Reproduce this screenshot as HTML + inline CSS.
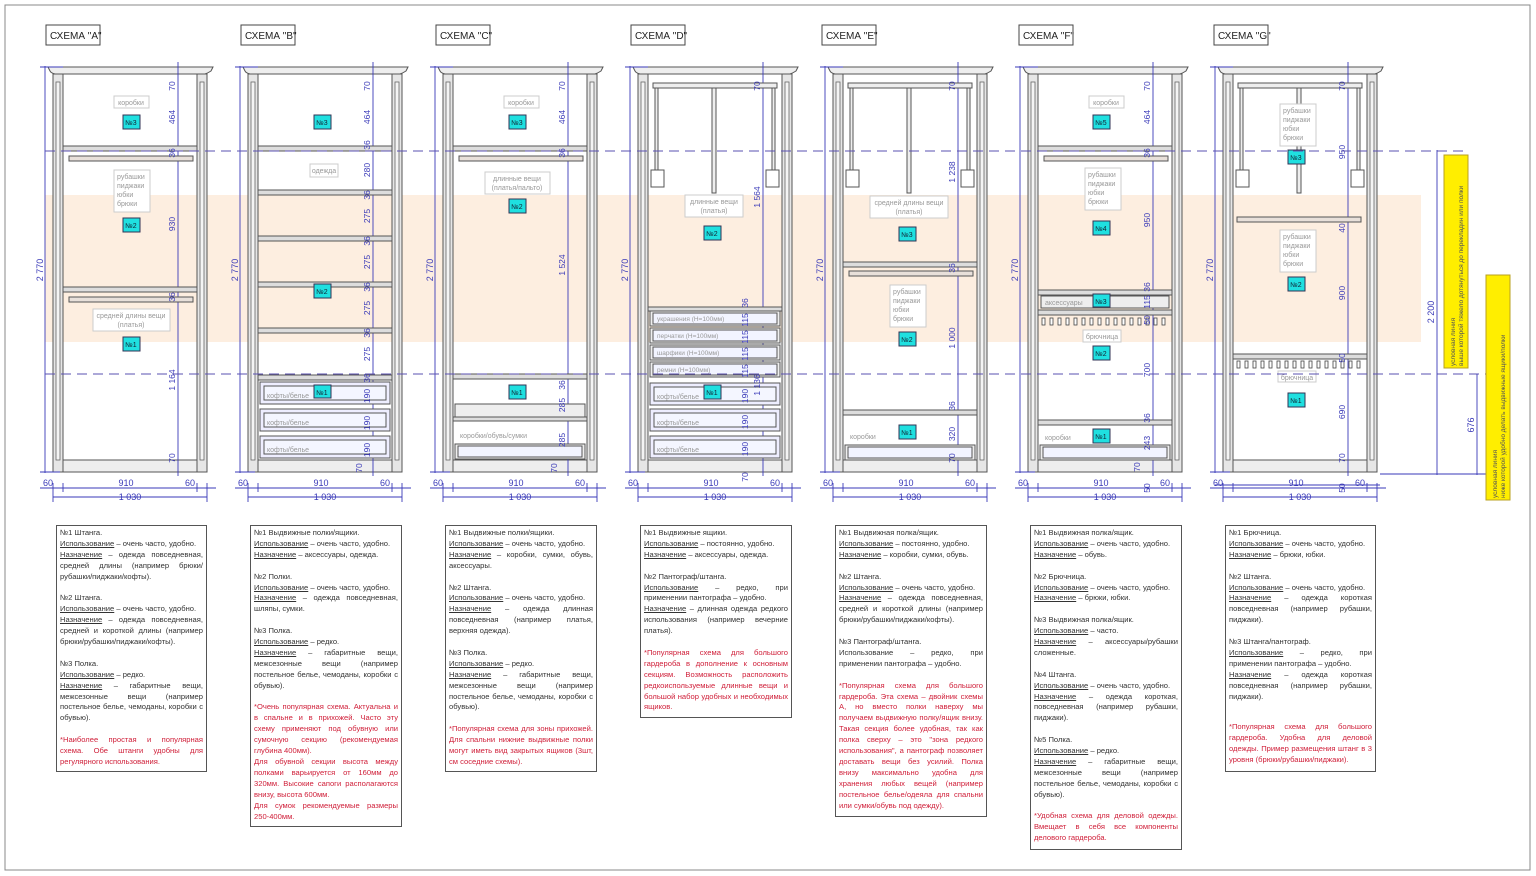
<!DOCTYPE html>
<html><head><meta charset="utf-8">
<style>
html,body{margin:0;padding:0;background:#fff}
#w{position:relative;width:1536px;height:876px;overflow:hidden;font-family:"Liberation Sans Narrow","Liberation Sans",sans-serif}
svg{position:absolute;left:0;top:0}
.tb{position:absolute;border:1.3px solid #555;padding:2px 3px;font-size:7.6px;line-height:10.9px;color:#333;text-align:justify;box-sizing:border-box;background:#fff}
.tb p{margin:0 0 10.9px 0}
.tb u{text-decoration:underline}
.r{color:#d0203a}
</style></head><body><div id="w">
<svg width="1536" height="876" viewBox="0 0 1536 876" font-family="Liberation Sans Narrow, Liberation Sans, sans-serif">
<defs>
<g id="cab">
<path d="M48,67 L213,67 L211,71 Q208,73 205,74 L55,74 Q51,73 50,71 Z" fill="#eee" stroke="#555" stroke-width="1"/>
<rect x="53" y="74" width="10" height="398" fill="#e6e6e6" stroke="#555"/>
<rect x="56" y="82" width="4" height="378" fill="#f4f4f4" stroke="#666" stroke-width="0.8"/>
<rect x="197" y="74" width="10" height="398" fill="#e6e6e6" stroke="#555"/>
<rect x="200" y="82" width="4" height="378" fill="#f4f4f4" stroke="#666" stroke-width="0.8"/>
<rect x="63" y="460" width="134" height="12" fill="#eee" stroke="#555"/>
<g stroke="#3a3ab8" stroke-width="0.9" fill="none">
<line x1="45" y1="66" x2="45" y2="473"/><line x1="40" y1="67" x2="63" y2="67"/><line x1="40" y1="472" x2="60" y2="472"/>
<line x1="178" y1="62" x2="178" y2="476"/>
<line x1="40" y1="488" x2="216" y2="488"/><line x1="53" y1="497" x2="207" y2="497"/>
<line x1="53" y1="483" x2="53" y2="502"/><line x1="63" y1="483" x2="63" y2="492"/><line x1="197" y1="483" x2="197" y2="492"/><line x1="207" y1="483" x2="207" y2="502"/>
</g>
<g fill="#3a3ab8" font-size="9">
<text x="43" y="270" transform="rotate(-90 43 270)" text-anchor="middle">2 770</text>
<text x="48" y="486" text-anchor="middle">60</text><text x="126" y="486" text-anchor="middle">910</text><text x="190" y="486" text-anchor="middle">60</text>
<text x="130" y="500" text-anchor="middle">1 030</text>
</g>
</g>
<g id="panto">
<rect x="68" y="83" width="124" height="5" fill="#eee" stroke="#555"/>
<rect x="70" y="88" width="3" height="82" fill="#eee" stroke="#555"/>
<rect x="187" y="88" width="3" height="82" fill="#eee" stroke="#555"/>
<rect x="66" y="170" width="13" height="17" fill="#fff" stroke="#555"/>
<rect x="181" y="170" width="13" height="17" fill="#fff" stroke="#555"/>
<rect x="127" y="88" width="4" height="105" fill="#eee" stroke="#555"/>
</g>
<g id="shelfrod">
<rect x="63" y="146" width="134" height="5" fill="#ddd" stroke="#555"/>
<rect x="69" y="156" width="124" height="5" fill="#e8e0da" stroke="#555"/>
</g>
<g id="drw"><rect x="65" y="0" width="130" height="22" fill="#eef" stroke="#555"/><rect x="69" y="4" width="122" height="14" fill="#f4f6ff" stroke="#555"/></g>
<g id="sdrw"><rect x="65" y="0" width="130" height="15" fill="#eee" stroke="#555"/><rect x="68" y="2" width="124" height="11" fill="#f2f4ff" stroke="#555"/></g>
<g id="comb" fill="#fff" stroke="#444" stroke-width="0.8">
<rect x="67" y="0" width="3" height="7"/><rect x="75" y="0" width="3" height="7"/><rect x="83" y="0" width="3" height="7"/><rect x="91" y="0" width="3" height="7"/><rect x="99" y="0" width="3" height="7"/><rect x="107" y="0" width="3" height="7"/><rect x="115" y="0" width="3" height="7"/><rect x="123" y="0" width="3" height="7"/><rect x="131" y="0" width="3" height="7"/><rect x="139" y="0" width="3" height="7"/><rect x="147" y="0" width="3" height="7"/><rect x="155" y="0" width="3" height="7"/><rect x="163" y="0" width="3" height="7"/><rect x="171" y="0" width="3" height="7"/><rect x="179" y="0" width="3" height="7"/><rect x="187" y="0" width="3" height="7"/>
</g>
</defs>
<rect x="5" y="5" width="1525" height="865" fill="none" stroke="#888" stroke-width="1"/>
<rect x="45" y="195" width="1376" height="147" fill="#fdeee0"/>

<!-- headers -->
<g font-size="10" fill="#222" stroke-width="1">
<rect x="46" y="25" width="54" height="20" fill="#fff" stroke="#444"/><text x="50" y="39">СХЕМА "A"</text>
<rect x="241" y="25" width="54" height="20" fill="#fff" stroke="#444"/><text x="245" y="39">СХЕМА "B"</text>
<rect x="436" y="25" width="54" height="20" fill="#fff" stroke="#444"/><text x="440" y="39">СХЕМА "C"</text>
<rect x="631" y="25" width="54" height="20" fill="#fff" stroke="#444"/><text x="635" y="39">СХЕМА "D"</text>
<rect x="822" y="25" width="54" height="20" fill="#fff" stroke="#444"/><text x="826" y="39">СХЕМА "E"</text>
<rect x="1019" y="25" width="54" height="20" fill="#fff" stroke="#444"/><text x="1023" y="39">СХЕМА "F"</text>
<rect x="1214" y="25" width="54" height="20" fill="#fff" stroke="#444"/><text x="1218" y="39">СХЕМА "G"</text>
</g>

<use href="#cab"/><use href="#cab" x="195"/><use href="#cab" x="390"/><use href="#cab" x="585"/><use href="#cab" x="780"/><use href="#cab" x="975"/><use href="#cab" x="1170"/>

<!-- A -->
<g>
<use href="#shelfrod"/><use href="#shelfrod" y="141"/>
<rect x="114" y="96" width="35" height="12" fill="#fff" stroke="#ccc"/><text x="131" y="105" font-size="7" fill="#999" text-anchor="middle">коробки</text>
<rect x="114" y="170" width="36" height="42" fill="#fff" stroke="#ccc"/><text font-size="7" fill="#999"><tspan x="117" y="179">рубашки</tspan><tspan x="117" y="188">пиджаки</tspan><tspan x="117" y="197">юбки</tspan><tspan x="117" y="206">брюки</tspan></text>
<rect x="93" y="309" width="77" height="22" fill="#fff" stroke="#ccc"/><text font-size="7" fill="#999" text-anchor="middle"><tspan x="131" y="318">средней длины вещи</tspan><tspan x="131" y="327">(платья)</tspan></text>
</g>
<!-- B -->
<g transform="translate(195,0)">
<rect x="63" y="146" width="134" height="5" fill="#ddd" stroke="#555"/>
<rect x="63" y="190" width="134" height="5" fill="#ddd" stroke="#555"/>
<rect x="63" y="236" width="134" height="5" fill="#ddd" stroke="#555"/>
<rect x="63" y="282" width="134" height="5" fill="#ddd" stroke="#555"/>
<rect x="63" y="328" width="134" height="5" fill="#ddd" stroke="#555"/>
<rect x="63" y="375" width="134" height="5" fill="#ddd" stroke="#555"/>
<use href="#drw" y="382"/><use href="#drw" y="409"/><use href="#drw" y="436"/>
<g font-size="7" fill="#999"><text x="72" y="398">кофты/белье</text><text x="72" y="425">кофты/белье</text><text x="72" y="452">кофты/белье</text></g>
<rect x="115" y="164" width="28" height="13" fill="#fff" stroke="#ccc"/><text x="129" y="173" font-size="7" fill="#999" text-anchor="middle">одежда</text>
</g>
<!-- C -->
<g transform="translate(390,0)">
<use href="#shelfrod"/>
<rect x="63" y="374" width="134" height="5" fill="#ddd" stroke="#555"/>
<rect x="65" y="404" width="130" height="13" fill="#eee" stroke="#555"/>
<rect x="63" y="417" width="134" height="4" fill="#ddd" stroke="#555"/>
<use href="#sdrw" y="444"/>
<text x="70" y="438" font-size="7" fill="#999">коробки/обувь/сумки</text>
<rect x="114" y="96" width="35" height="12" fill="#fff" stroke="#ccc"/><text x="131" y="105" font-size="7" fill="#999" text-anchor="middle">коробки</text>
<rect x="95" y="172" width="65" height="22" fill="#fff" stroke="#ccc"/><text font-size="7" fill="#999" text-anchor="middle"><tspan x="127" y="181">длинные вещи</tspan><tspan x="127" y="190">(платья/пальто)</tspan></text>
</g>
<!-- D -->
<g transform="translate(585,0)">
<use href="#panto"/>
<rect x="63" y="307" width="134" height="4" fill="#ddd" stroke="#555"/>
<use href="#sdrw" y="311"/><use href="#sdrw" y="328"/><use href="#sdrw" y="345"/><use href="#sdrw" y="362"/>
<g font-size="6.5" fill="#999"><text x="72" y="321">украшения (Н=100мм)</text><text x="72" y="338">перчатки (Н=100мм)</text><text x="72" y="355">шарфики (Н=100мм)</text><text x="72" y="372">ремни (Н=100мм)</text></g>
<use href="#drw" y="383"/><use href="#drw" y="409"/><use href="#drw" y="436"/>
<g font-size="7" fill="#999"><text x="72" y="399">кофты/белье</text><text x="72" y="425">кофты/белье</text><text x="72" y="452">кофты/белье</text></g>
<rect x="100" y="195" width="58" height="22" fill="#fff" stroke="#ccc"/><text font-size="7" fill="#999" text-anchor="middle"><tspan x="129" y="204">длинные вещи</tspan><tspan x="129" y="213">(платья)</tspan></text>
</g>
<!-- E -->
<g transform="translate(780,0)">
<use href="#panto"/>
<rect x="63" y="262" width="134" height="5" fill="#ddd" stroke="#555"/>
<rect x="69" y="271" width="124" height="5" fill="#e8e0da" stroke="#555"/>
<rect x="63" y="410" width="134" height="5" fill="#ddd" stroke="#555"/>
<use href="#sdrw" y="445"/>
<text x="70" y="439" font-size="7" fill="#999">коробки</text>
<rect x="90" y="196" width="78" height="22" fill="#fff" stroke="#ccc"/><text font-size="7" fill="#999" text-anchor="middle"><tspan x="129" y="205">средней длины вещи</tspan><tspan x="129" y="214">(платья)</tspan></text>
<rect x="110" y="285" width="36" height="42" fill="#fff" stroke="#ccc"/><text font-size="7" fill="#999"><tspan x="113" y="294">рубашки</tspan><tspan x="113" y="303">пиджаки</tspan><tspan x="113" y="312">юбки</tspan><tspan x="113" y="321">брюки</tspan></text>
</g>
<!-- F -->
<g transform="translate(975,0)">
<use href="#shelfrod"/>
<rect x="63" y="290" width="134" height="5" fill="#ddd" stroke="#555"/>
<rect x="66" y="296" width="128" height="12" fill="#eee" stroke="#555"/>
<rect x="63" y="310" width="134" height="5" fill="#ddd" stroke="#555"/>
<use href="#comb" y="318"/>
<rect x="63" y="420" width="134" height="5" fill="#ddd" stroke="#555"/>
<use href="#sdrw" y="445"/>
<text x="70" y="305" font-size="7" fill="#999">аксессуары</text>
<text x="70" y="440" font-size="7" fill="#999">коробки</text>
<rect x="114" y="96" width="35" height="12" fill="#fff" stroke="#ccc"/><text x="131" y="105" font-size="7" fill="#999" text-anchor="middle">коробки</text>
<rect x="110" y="168" width="36" height="42" fill="#fff" stroke="#ccc"/><text font-size="7" fill="#999"><tspan x="113" y="177">рубашки</tspan><tspan x="113" y="186">пиджаки</tspan><tspan x="113" y="195">юбки</tspan><tspan x="113" y="204">брюки</tspan></text>
<rect x="108" y="330" width="38" height="12" fill="#fff" stroke="#ccc"/><text x="127" y="339" font-size="7" fill="#999" text-anchor="middle">брючница</text>
</g>
<!-- G -->
<g transform="translate(1170,0)">
<use href="#panto"/>
<rect x="67" y="217" width="124" height="5" fill="#e8e0da" stroke="#555"/>
<rect x="63" y="354" width="134" height="5" fill="#ddd" stroke="#555"/>
<use href="#comb" y="361"/>
<rect x="110" y="104" width="36" height="42" fill="#fff" stroke="#ccc"/><text font-size="7" fill="#999"><tspan x="113" y="113">рубашки</tspan><tspan x="113" y="122">пиджаки</tspan><tspan x="113" y="131">юбки</tspan><tspan x="113" y="140">брюки</tspan></text>
<rect x="110" y="230" width="36" height="42" fill="#fff" stroke="#ccc"/><text font-size="7" fill="#999"><tspan x="113" y="239">рубашки</tspan><tspan x="113" y="248">пиджаки</tspan><tspan x="113" y="257">юбки</tspan><tspan x="113" y="266">брюки</tspan></text>
<rect x="108" y="371" width="38" height="11" fill="#fff" stroke="#ccc"/><text x="127" y="380" font-size="7" fill="#999" text-anchor="middle">брючница</text>
</g>

<!-- cyan markers -->
<g font-size="7" fill="#123" text-anchor="middle">
<g fill="#1fe0e0" stroke="#335"><rect x="123" y="115" width="17" height="14"/><rect x="123" y="218" width="17" height="14"/><rect x="123" y="337" width="17" height="14"/>
<rect x="314" y="115" width="17" height="14"/><rect x="314" y="284" width="17" height="14"/><rect x="314" y="385" width="17" height="13"/>
<rect x="509" y="115" width="17" height="14"/><rect x="509" y="199" width="17" height="14"/><rect x="509" y="385" width="17" height="14"/>
<rect x="704" y="226" width="17" height="14"/><rect x="704" y="385" width="17" height="14"/>
<rect x="899" y="227" width="17" height="14"/><rect x="899" y="332" width="17" height="14"/><rect x="899" y="425" width="17" height="14"/>
<rect x="1093" y="115" width="17" height="14"/><rect x="1093" y="221" width="17" height="14"/><rect x="1093" y="294" width="17" height="13"/><rect x="1093" y="346" width="17" height="14"/><rect x="1093" y="429" width="17" height="14"/>
<rect x="1288" y="150" width="17" height="14"/><rect x="1288" y="277" width="17" height="14"/><rect x="1288" y="393" width="17" height="14"/></g>
<text x="131" y="125">№3</text><text x="131" y="228">№2</text><text x="131" y="347">№1</text>
<text x="322" y="125">№3</text><text x="322" y="294">№2</text><text x="322" y="395">№1</text>
<text x="517" y="125">№3</text><text x="517" y="209">№2</text><text x="517" y="395">№1</text>
<text x="712" y="236">№2</text><text x="712" y="395">№1</text>
<text x="907" y="237">№3</text><text x="907" y="342">№2</text><text x="907" y="435">№1</text>
<text x="1101" y="125">№5</text><text x="1101" y="231">№4</text><text x="1101" y="304">№3</text><text x="1101" y="356">№2</text><text x="1101" y="439">№1</text>
<text x="1296" y="160">№3</text><text x="1296" y="287">№2</text><text x="1296" y="403">№1</text>
</g>

<!-- right dims -->
<g fill="#3a3ab8" font-size="8.5" text-anchor="middle">
<text transform="translate(175,86) rotate(-90)">70</text><text transform="translate(175,117) rotate(-90)">464</text><text transform="translate(175,153) rotate(-90)">36</text><text transform="translate(175,224) rotate(-90)">930</text><text transform="translate(175,297) rotate(-90)">36</text><text transform="translate(175,380) rotate(-90)">1 164</text><text transform="translate(175,458) rotate(-90)">70</text>
<text transform="translate(370,86) rotate(-90)">70</text><text transform="translate(370,117) rotate(-90)">464</text><text transform="translate(370,145) rotate(-90)">36</text><text transform="translate(370,170) rotate(-90)">280</text><text transform="translate(370,195) rotate(-90)">36</text><text transform="translate(370,216) rotate(-90)">275</text><text transform="translate(370,241) rotate(-90)">36</text><text transform="translate(370,262) rotate(-90)">275</text><text transform="translate(370,287) rotate(-90)">36</text><text transform="translate(370,308) rotate(-90)">275</text><text transform="translate(370,333) rotate(-90)">36</text><text transform="translate(370,354) rotate(-90)">275</text><text transform="translate(370,378) rotate(-90)">36</text><text transform="translate(370,396) rotate(-90)">190</text><text transform="translate(370,423) rotate(-90)">190</text><text transform="translate(370,450) rotate(-90)">190</text><text transform="translate(362,468) rotate(-90)">70</text>
<text transform="translate(565,86) rotate(-90)">70</text><text transform="translate(565,117) rotate(-90)">464</text><text transform="translate(565,153) rotate(-90)">36</text><text transform="translate(565,265) rotate(-90)">1 524</text><text transform="translate(565,385) rotate(-90)">36</text><text transform="translate(565,405) rotate(-90)">285</text><text transform="translate(565,440) rotate(-90)">285</text><text transform="translate(557,468) rotate(-90)">70</text>
<text transform="translate(760,86) rotate(-90)">70</text><text transform="translate(760,197) rotate(-90)">1 564</text><text transform="translate(748,303) rotate(-90)">36</text><text transform="translate(748,320) rotate(-90)">115</text><text transform="translate(748,337) rotate(-90)">115</text><text transform="translate(748,354) rotate(-90)">115</text><text transform="translate(748,371) rotate(-90)">115</text><text transform="translate(748,396) rotate(-90)">190</text><text transform="translate(760,385) rotate(-90)">1 136</text><text transform="translate(748,422) rotate(-90)">190</text><text transform="translate(748,449) rotate(-90)">190</text><text transform="translate(748,477) rotate(-90)">70</text>
<text transform="translate(955,86) rotate(-90)">70</text><text transform="translate(955,172) rotate(-90)">1 238</text><text transform="translate(955,268) rotate(-90)">36</text><text transform="translate(955,338) rotate(-90)">1 000</text><text transform="translate(955,406) rotate(-90)">36</text><text transform="translate(955,434) rotate(-90)">320</text><text transform="translate(955,458) rotate(-90)">70</text>
<text transform="translate(1150,86) rotate(-90)">70</text><text transform="translate(1150,117) rotate(-90)">464</text><text transform="translate(1150,153) rotate(-90)">36</text><text transform="translate(1150,220) rotate(-90)">950</text><text transform="translate(1150,287) rotate(-90)">36</text><text transform="translate(1150,302) rotate(-90)">115</text><text transform="translate(1150,320) rotate(-90)">50</text><text transform="translate(1150,370) rotate(-90)">700</text><text transform="translate(1150,418) rotate(-90)">36</text><text transform="translate(1150,443) rotate(-90)">243</text><text transform="translate(1140,467) rotate(-90)">70</text><text transform="translate(1150,488) rotate(-90)">50</text>
<text transform="translate(1345,86) rotate(-90)">70</text><text transform="translate(1345,152) rotate(-90)">950</text><text transform="translate(1345,228) rotate(-90)">40</text><text transform="translate(1345,293) rotate(-90)">900</text><text transform="translate(1345,358) rotate(-90)">50</text><text transform="translate(1345,412) rotate(-90)">690</text><text transform="translate(1345,458) rotate(-90)">70</text><text transform="translate(1345,488) rotate(-90)">50</text>
</g>

<!-- dashed lines -->
<g stroke="#5a50b0" stroke-width="1" stroke-dasharray="10,6">
<line x1="45" y1="151" x2="1465" y2="151"/><line x1="45" y1="374" x2="1490" y2="374"/>
</g>
<!-- overall dims -->
<g stroke="#3a3ab8" stroke-width="0.9"><line x1="1437" y1="150" x2="1437" y2="475"/><line x1="1477" y1="374" x2="1477" y2="475"/><line x1="1380" y1="474" x2="1490" y2="474"/><line x1="1380" y1="485" x2="1215" y2="485"/></g>
<g fill="#3a3ab8" font-size="9" text-anchor="middle"><text transform="translate(1434,312) rotate(-90)">2 200</text><text transform="translate(1474,425) rotate(-90)">676</text></g>
<rect x="1444" y="155" width="24" height="213" fill="#ffee00" stroke="#b8a020"/>
<rect x="1486" y="275" width="24" height="225" fill="#ffee00" stroke="#b8a020"/>
<g font-size="6.5" fill="#555"><text transform="translate(1455,366) rotate(-90)"><tspan x="0" y="0">условная линия</tspan><tspan x="0" y="8">выше которой тяжело дотянуться до перекладин или полки</tspan></text>
<text transform="translate(1497,498) rotate(-90)"><tspan x="0" y="0">условная линия</tspan><tspan x="0" y="8">ниже которой удобно делать выдвижные ящики/полки</tspan></text></g>
</svg>

<div class="tb" style="left:56px;top:525px;width:151px;height:247px">
<p>№1 Штанга.<br><u>Использование</u> – очень часто, удобно.<br><u>Назначение</u> – одежда повседневная, средней длины (например брюки/рубашки/пиджаки/кофты).</p>
<p>№2 Штанга.<br><u>Использование</u> – очень часто, удобно.<br><u>Назначение</u> – одежда повседневная, средней и короткой длины (например брюки/рубашки/пиджаки/кофты).</p>
<p>№3 Полка.<br><u>Использование</u> – редко.<br><u>Назначение</u> – габаритные вещи, межсезонные вещи (например постельное белье, чемоданы, коробки с обувью).</p>
<p class="r">*Наиболее простая и популярная схема. Обе штанги удобны для регулярного использования.</p></div>

<div class="tb" style="left:250px;top:525px;width:152px;height:302px">
<p>№1 Выдвижные полки/ящики.<br><u>Использование</u> – очень часто, удобно.<br><u>Назначение</u> – аксессуары, одежда.</p>
<p>№2 Полки.<br><u>Использование</u> – очень часто, удобно.<br><u>Назначение</u> – одежда повседневная, шляпы, сумки.</p>
<p>№3 Полка.<br><u>Использование</u> – редко.<br><u>Назначение</u> – габаритные вещи, межсезонные вещи (например постельное белье, чемоданы, коробки с обувью).</p>
<p class="r" style="margin:0">*Очень популярная схема. Актуальна и в спальне и в прихожей. Часто эту схему применяют под обувную или сумочную секцию (рекомендуемая глубина 400мм).<br>Для обувной секции высота между полками варьируется от 160мм до 320мм. Высокие сапоги располагаются внизу, высота 600мм.<br>Для сумок рекомендуемые размеры 250-400мм.</p></div>

<div class="tb" style="left:445px;top:525px;width:152px;height:247px">
<p>№1 Выдвижные полки/ящики.<br><u>Использование</u> – очень часто, удобно.<br><u>Назначение</u> – коробки, сумки, обувь, аксессуары.</p>
<p>№2 Штанга.<br><u>Использование</u> – очень часто, удобно.<br><u>Назначение</u> – одежда длинная повседневная (например платья, верхняя одежда).</p>
<p>№3 Полка.<br><u>Использование</u> – редко.<br><u>Назначение</u> – габаритные вещи, межсезонные вещи (например постельное белье, чемоданы, коробки с обувью).</p>
<p class="r">*Популярная схема для зоны прихожей. Для спальни нижние выдвижные полки могут иметь вид закрытых ящиков (3шт, см соседние схемы).</p></div>

<div class="tb" style="left:640px;top:525px;width:152px;height:193px">
<p>№1 Выдвижные ящики.<br><u>Использование</u> – постоянно, удобно.<br><u>Назначение</u> – аксессуары, одежда.</p>
<p>№2 Пантограф/штанга.<br><u>Использование</u> – редко, при применении пантографа – удобно.<br><u>Назначение</u> – длинная одежда редкого использования (например вечерние платья).</p>
<p class="r">*Популярная схема для большого гардероба в дополнение к основным секциям. Возможность расположить редкоиспользуемые длинные вещи и большой набор удобных и необходимых ящиков.</p></div>

<div class="tb" style="left:835px;top:525px;width:152px;height:292px">
<p>№1 Выдвижная полка/ящик.<br><u>Использование</u> – постоянно, удобно.<br><u>Назначение</u> – коробки, сумки, обувь.</p>
<p>№2 Штанга.<br><u>Использование</u> – очень часто, удобно.<br><u>Назначение</u> – одежда повседневная, средней и короткой длины (например брюки/рубашки/пиджаки/кофты).</p>
<p>№3 Пантограф/штанга.<br>Использование – редко, при применении пантографа – удобно.</p>
<p class="r">*Популярная схема для большого гардероба. Эта схема – двойник схемы A, но вместо полки наверху мы получаем выдвижную полку/ящик внизу. Такая секция более удобная, так как полка сверху – это "зона редкого использования", а пантограф позволяет доставать вещи без усилий. Полка внизу максимально удобна для хранения любых вещей (например постельное белье/одеяла для спальни или сумки/обувь под одежду).</p></div>

<div class="tb" style="left:1030px;top:525px;width:152px;height:325px">
<p>№1 Выдвижная полка/ящик.<br><u>Использование</u> – очень часто, удобно.<br><u>Назначение</u> – обувь.</p>
<p>№2 Брючница.<br><u>Использование</u> – очень часто, удобно.<br><u>Назначение</u> – брюки, юбки.</p>
<p>№3 Выдвижная полка/ящик.<br><u>Использование</u> – часто.<br><u>Назначение</u> – аксессуары/рубашки сложенные.</p>
<p>№4 Штанга.<br><u>Использование</u> – очень часто, удобно.<br><u>Назначение</u> – одежда короткая, повседневная (например рубашки, пиджаки).</p>
<p>№5 Полка.<br><u>Использование</u> – редко.<br><u>Назначение</u> – габаритные вещи, межсезонные вещи (например постельное белье, чемоданы, коробки с обувью).</p>
<p class="r">*Удобная схема для деловой одежды. Вмещает в себя все компоненты делового гардероба.</p></div>

<div class="tb" style="left:1225px;top:525px;width:151px;height:247px">
<p>№1 Брючница.<br><u>Использование</u> – очень часто, удобно.<br><u>Назначение</u> – брюки, юбки.</p>
<p>№2 Штанга.<br><u>Использование</u> – очень часто, удобно.<br><u>Назначение</u> – одежда короткая повседневная (например рубашки, пиджаки).</p>
<p>№3 Штанга/пантограф.<br><u>Использование</u> – редко, при применении пантографа – удобно.<br><u>Назначение</u> – одежда короткая повседневная (например рубашки, пиджаки).</p>
<p class="r" style="margin-top:20px">*Популярная схема для большого гардероба. Удобна для деловой одежды. Пример размещения штанг в 3 уровня (брюки/рубашки/пиджаки).</p></div>
</div></body></html>
